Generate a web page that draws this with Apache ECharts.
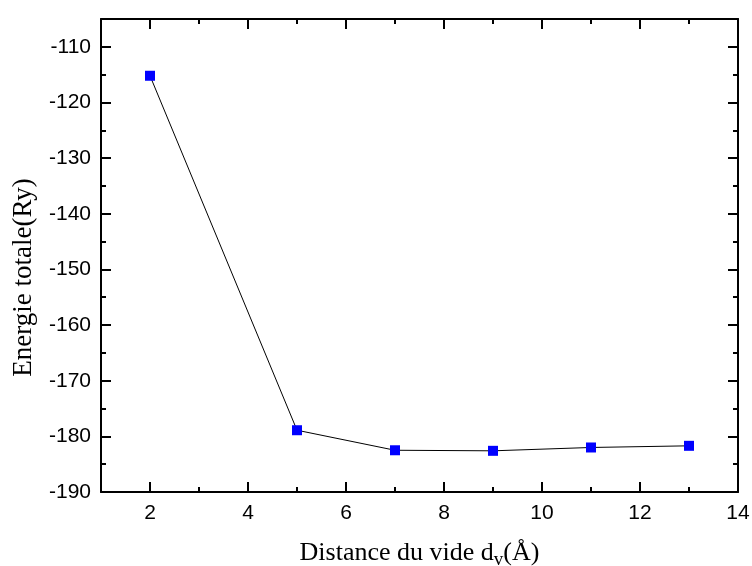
<!DOCTYPE html>
<html>
<head>
<meta charset="utf-8">
<script src="https://cdn.jsdelivr.net/npm/echarts@6/dist/echarts.min.js"></script>
<style>html,body{margin:0;padding:0;background:#fff}#chart{width:752px;height:566px}</style>
</head>
<body>
<div id="chart"></div>
<script>
// distance du vide (Å) and total energy (Ry)
const distances = [2, 5, 7, 9, 11, 13];
const energies = [-115.2, -178.9, -182.5, -182.6, -182.0, -181.7];
const xMajorTicks = [2, 4, 6, 8, 10, 12, 14];
const xMinorTicks = [1, 3, 5, 7, 9, 11, 13];

const points = distances.map((d, i) => [d, energies[i]]);

const chart = echarts.init(document.getElementById('chart'));

const lineStyle = { color: '#000', width: 2 };
const labelStyle = { color: '#000', fontFamily: 'Liberation Sans', fontSize: 21 };

// x axes: major ticks / labels, then a minor tick overlay, bottom and top
function xAxisFor(position, withLabels) {
  return [{
    type: 'value', position: position, min: 1, max: 14,
    axisLine: { show: true, onZero: false, lineStyle: lineStyle },
    axisTick: { show: true, inside: true, length: 10, lineStyle: lineStyle, customValues: xMajorTicks },
    axisLabel: withLabels
      ? Object.assign({ margin: 11, customValues: xMajorTicks }, labelStyle)
      : { show: false },
    splitLine: { show: false }
  }, {
    type: 'value', position: position, min: 1, max: 14,
    axisLine: { show: false },
    axisTick: { show: true, inside: true, length: 5, lineStyle: lineStyle, customValues: xMinorTicks },
    axisLabel: { show: false },
    splitLine: { show: false }
  }];
}

function yAxisFor(position, withLabels) {
  return {
    type: 'value', position: position, min: -190, max: -105, interval: 10,
    axisLine: { show: true, onZero: false, lineStyle: lineStyle },
    axisTick: { show: true, inside: true, length: 10, lineStyle: lineStyle },
    minorTick: { show: true, splitNumber: 2, length: 5, lineStyle: lineStyle },
    axisLabel: withLabels
      ? Object.assign({ margin: 10, formatter: v => (v === -105 ? '' : v) }, labelStyle)
      : { show: false },
    splitLine: { show: false }
  };
}

const xBottom = xAxisFor('bottom', true);
xBottom[0].name = '{t|Distance du vide d}{s|v}{t|(Å)}';
xBottom[0].nameLocation = 'middle';
xBottom[0].nameGap = 47;
xBottom[0].nameTextStyle = {
  rich: {
    t: { fontFamily: 'Liberation Serif', fontSize: 26, color: '#000', lineHeight: 28 },
    s: { fontFamily: 'Liberation Serif', fontSize: 19, color: '#000', lineHeight: 28, padding: [14, 0, 0, 0] }
  }
};

const yLeft = yAxisFor('left', true);
yLeft.name = 'Energie totale(Ry)';
yLeft.nameLocation = 'middle';
yLeft.nameGap = 64;
// title sits a little below the middle of the axis
yLeft.nameTextStyle = { fontFamily: 'Liberation Serif', fontSize: 27, color: '#000', padding: [0, 44, 0, 0] };

const option = {
  animation: false,
  backgroundColor: '#fff',
  grid: { left: 101, right: 14, top: 19, bottom: 74, outerBoundsMode: 'none' },
  xAxis: xBottom.concat(xAxisFor('top', false)),
  yAxis: [yLeft, yAxisFor('right', false)],
  series: [{
    type: 'line',
    data: points,
    symbol: 'rect',
    symbolSize: 10,
    itemStyle: { color: '#0000ff' },
    lineStyle: { color: '#000', width: 1 }
  }]
};

chart.setOption(option);
</script>
</body>
</html>
